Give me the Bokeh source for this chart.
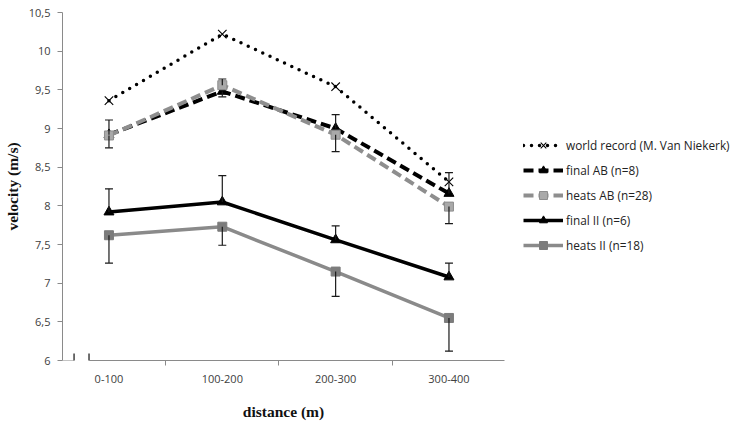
from bokeh.plotting import figure
from bokeh.models import (Range1d, FixedTicker, Legend, LegendItem, Arrow, ColumnDataSource)
from bokeh.embed import file_html
from bokeh.resources import INLINE

categories = ["0-100", "100-200", "200-300", "300-400"]
world_record = [9.36, 10.22, 9.54, 8.31]
final_ab = [8.92, 9.48, 9.00, 8.16]
heats_ab = [8.91, 9.56, 8.92, 7.99]
final_ii = [7.92, 8.05, 7.56, 7.08]
heats_ii = [7.62, 7.73, 7.15, 6.55]

# ends of the (one-sided) SD error bars
final_ab_err = [9.11, 9.41, 9.18, 8.43]
heats_ab_err = [8.75, 9.64, 8.70, 7.77]
final_ii_err = [8.22, 8.39, 7.74, 7.26]
heats_ii_err = [7.26, 7.49, 6.83, 6.12]

y_ticks = [6, 6.5, 7, 7.5, 8, 8.5, 9, 9.5, 10, 10.5]
y_tick_labels = ["6", "6,5", "7", "7,5", "8", "8,5", "9", "9,5", "10", "10,5"]

names = ["world record (M. Van Niekerk)", "final AB (n=8)", "heats AB (n=28)",
         "final II (n=6)", "heats II (n=18)"]

xs = list(range(len(categories)))
X0, X1 = -0.41, 3.49
Y0, Y1 = 6.0, 10.5

p = figure(frame_width=442, frame_height=348, output_backend="svg", toolbar_location=None,
           x_range=Range1d(X0, X1), y_range=Range1d(Y0, Y1),
           min_border_left=62, min_border_right=0, min_border_top=12, min_border_bottom=64)
p.grid.visible = False
p.outline_line_color = None

TICK_FONT = "Open Sans"
AX_COLOR = "#8a8a8a"

# y axis
ya = p.yaxis[0]
ya.ticker = FixedTicker(ticks=y_ticks, minor_ticks=[])
ya.major_label_overrides = {t: l for t, l in zip(y_ticks, y_tick_labels)}
ya.bounds = (6, 10.5)
ya.axis_line_color = AX_COLOR
ya.major_tick_line_color = AX_COLOR
ya.major_tick_out = 5
ya.major_tick_in = 0
ya.major_label_standoff = 7
ya.major_label_text_font = TICK_FONT
ya.major_label_text_font_size = "11px"
ya.major_label_text_color = "#404040"
ya.axis_label = "velocity (m/s)"
ya.axis_label_text_font = "Liberation Serif"
ya.axis_label_text_font_style = "bold"
ya.axis_label_text_font_size = "15.5px"
ya.axis_label_text_color = "#111111"
ya.axis_label_standoff = 5

# x axis
xa = p.xaxis[0]
xa.ticker = FixedTicker(ticks=xs, minor_ticks=[i + 0.5 for i in xs])
xa.major_label_overrides = {i: c for i, c in zip(xs, categories)}
xa.bounds = (-0.176, X1)
xa.axis_line_color = AX_COLOR
xa.major_tick_line_color = None
xa.major_tick_out = 0
xa.major_tick_in = 0
xa.minor_tick_line_color = AX_COLOR
xa.minor_tick_out = 5
xa.minor_tick_in = 0
xa.major_label_standoff = 9
xa.major_label_text_font = TICK_FONT
xa.major_label_text_font_size = "11px"
xa.major_label_text_color = "#404040"
xa.axis_label = "distance (m)"
xa.axis_label_text_font = "Liberation Serif"
xa.axis_label_text_font_style = "bold"
xa.axis_label_text_font_size = "15.5px"
xa.axis_label_text_color = "#111111"
xa.axis_label_standoff = 17

# axis break
p.add_layout(Arrow(end=None, x_start=X0, y_start=6, x_end=-0.31, y_end=6,
                   line_color=AX_COLOR, line_width=1))
for bx in (-0.308, -0.176):
    p.add_layout(Arrow(end=None, x_start=bx, y_start=5.91, x_end=bx, y_end=6.09,
                       line_color="#222222", line_width=1.3))

series = [
    dict(y=world_record, err=None, color="black", dash="0 8", width=3.5, cap="round",
         marker="x", msize=12, mfill="black", mline="black", mlw=1.1),
    dict(y=final_ab, err=final_ab_err, color="black", dash="10 5", width=4, cap="butt",
         marker="triangle", msize=10, mfill="black", mline="black", mlw=1),
    dict(y=heats_ab, err=heats_ab_err, color="#8e8e8e", dash="10 5", width=4, cap="butt",
         marker="square", msize=9, mfill="#a9a9a9", mline="#8e8e8e", mlw=1),
    dict(y=final_ii, err=final_ii_err, color="black", dash="solid", width=3.5, cap="butt",
         marker="triangle", msize=10, mfill="black", mline="black", mlw=1),
    dict(y=heats_ii, err=heats_ii_err, color="#8a8a8a", dash="solid", width=3.5, cap="butt",
         marker="square", msize=9, mfill="#7c7c7c", mline="#7c7c7c", mlw=1),
]

items = []
for name, s in zip(names, series):
    src = ColumnDataSource(dict(x=xs, y=s["y"]))
    lr = p.line("x", "y", source=src, line_color=s["color"], line_width=s["width"],
                line_dash=s["dash"], line_cap=s["cap"], line_join="round")
    mr = p.scatter("x", "y", source=src, marker=s["marker"], size=s["msize"],
                   fill_color=s["mfill"], line_color=s["mline"], line_width=s["mlw"])
    items.append(LegendItem(label=name, renderers=[lr, mr]))

for s in series:
    if s["err"] is None:
        continue
    esrc = ColumnDataSource(dict(x=xs, y0=s["y"], y1=s["err"]))
    p.segment(x0="x", y0="y0", x1="x", y1="y1", source=esrc, line_color="#1a1a1a", line_width=1.2)
    p.scatter("x", "y1", source=esrc, marker="dash", size=8, line_color="#1a1a1a", line_width=1.2)

legend = Legend(items=items, location=(19, 105), margin=0, padding=0,
                glyph_width=40, glyph_height=20, label_height=20, spacing=5,
                label_standoff=3, border_line_color=None, background_fill_alpha=0,
                label_text_font=TICK_FONT, label_text_font_size="11.8px",
                label_text_color="#222222")
p.add_layout(legend, "right")

open("out.html", "w").write(file_html(p, INLINE))
